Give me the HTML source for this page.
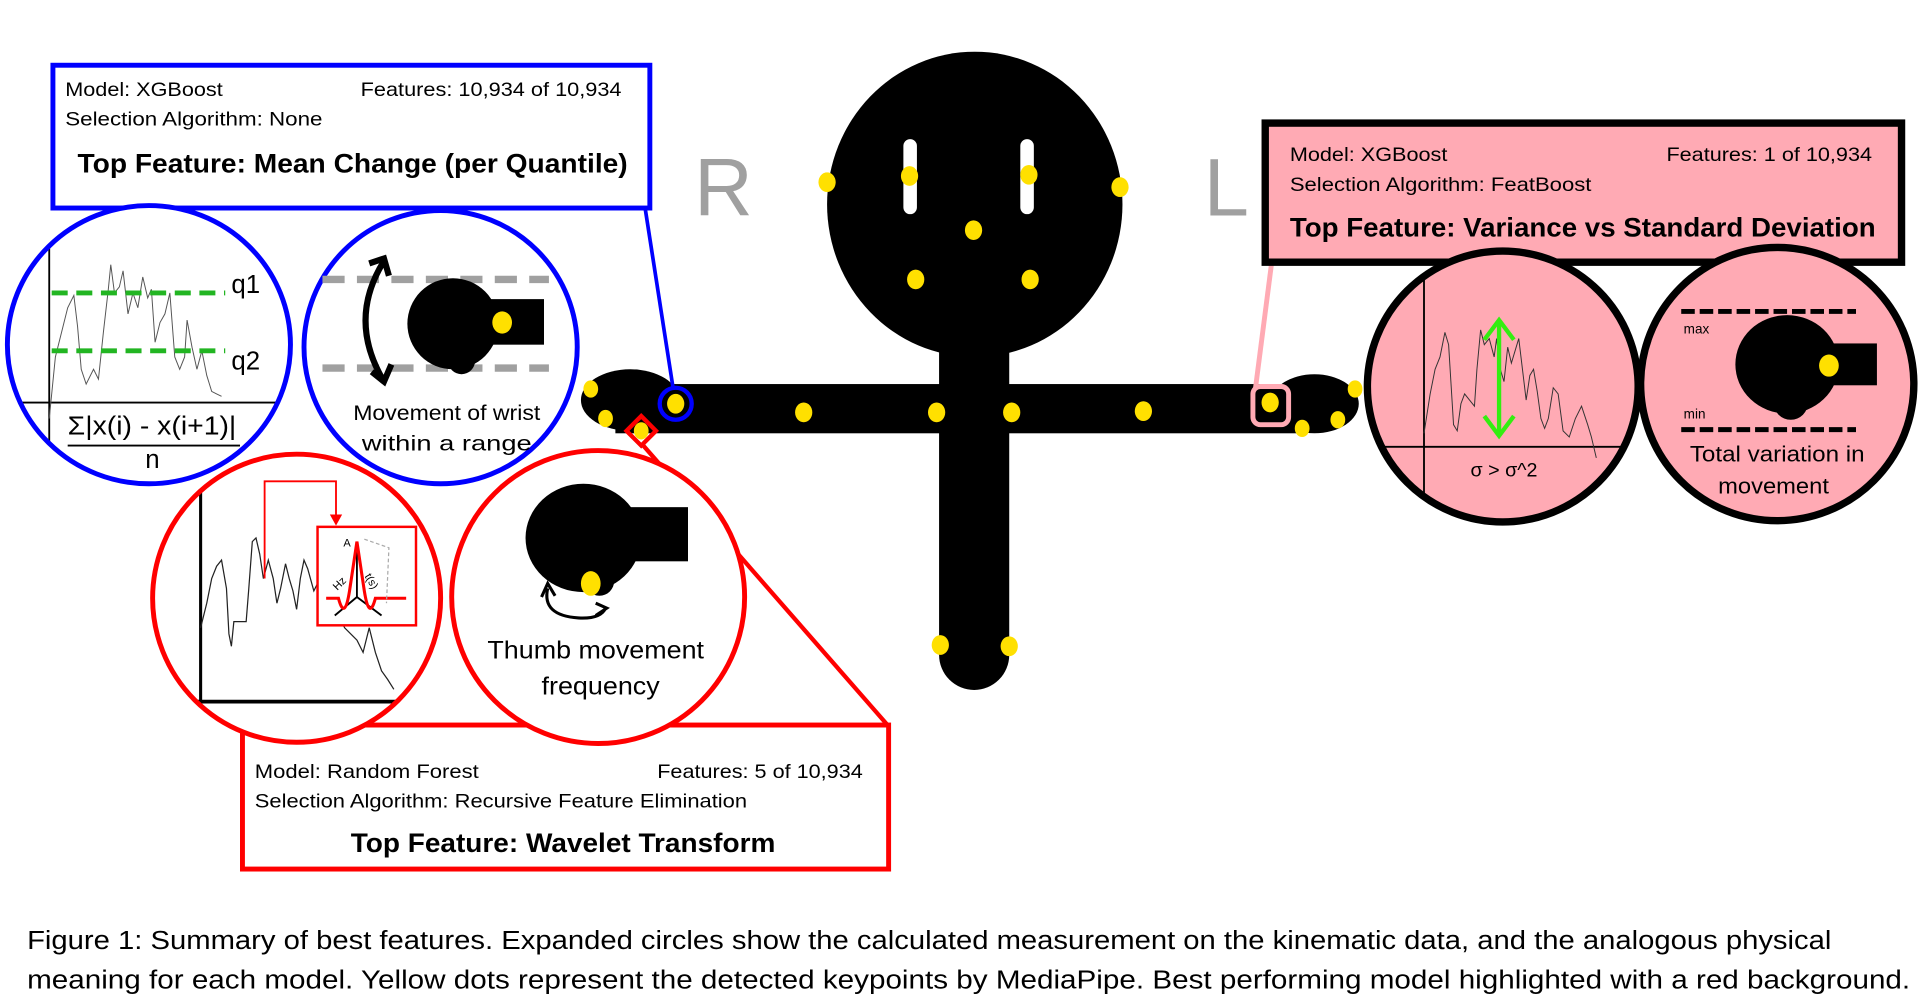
<!DOCTYPE html>
<html><head><meta charset="utf-8"><style>
html,body{margin:0;padding:0;background:#fff;}
svg{display:block;}
text{font-family:"Liberation Sans",sans-serif;}
</style></head><body>
<svg width="1920" height="1002" viewBox="0 0 1560 814" preserveAspectRatio="none" xmlns="http://www.w3.org/2000/svg">
<defs>
<clipPath id="cb1"><ellipse cx="121" cy="280" rx="115" ry="113"/></clipPath>
<clipPath id="cr1"><circle cx="241" cy="486" r="117"/></clipPath>
<clipPath id="cp1"><circle cx="1221" cy="314" r="110"/></clipPath>
</defs>
<rect width="1560" height="814" fill="#fff"/>

<!-- Body -->
<ellipse cx="792" cy="166" rx="120" ry="124" fill="#000"/>
<rect x="763" y="200" width="57" height="332" fill="#000"/>
<circle cx="791.5" cy="532" r="28.5" fill="#000"/>
<rect x="500" y="312" width="560" height="40" fill="#000"/>
<ellipse cx="512" cy="325" rx="40" ry="25" fill="#000"/>
<ellipse cx="1068" cy="328" rx="36" ry="24" fill="#000"/>
<rect x="734" y="113" width="11" height="61" rx="5.5" fill="#fff"/>
<rect x="829" y="113" width="11" height="61" rx="5.5" fill="#fff"/>
<g fill="#ffe000">
<ellipse cx="672" cy="148" rx="7" ry="8"/><ellipse cx="739" cy="143" rx="7" ry="8"/>
<ellipse cx="836" cy="142" rx="7" ry="8"/><ellipse cx="910" cy="152" rx="7" ry="8"/>
<ellipse cx="791" cy="187" rx="7" ry="8"/><ellipse cx="744" cy="227" rx="7" ry="8"/>
<ellipse cx="837" cy="227" rx="7" ry="8"/>
<ellipse cx="480" cy="316" rx="6" ry="7"/><ellipse cx="492" cy="340" rx="6" ry="7"/>
<ellipse cx="521" cy="350" rx="6" ry="7"/><ellipse cx="549" cy="328" rx="7" ry="8"/>
<ellipse cx="653" cy="335" rx="7" ry="8"/><ellipse cx="761" cy="335" rx="7" ry="8"/>
<ellipse cx="822" cy="335" rx="7" ry="8"/><ellipse cx="929" cy="334" rx="7" ry="8"/>
<ellipse cx="1032" cy="327" rx="7" ry="8"/><ellipse cx="1101" cy="316" rx="6" ry="7"/>
<ellipse cx="1087" cy="341" rx="6" ry="7"/><ellipse cx="1058" cy="348" rx="6" ry="7"/>
<ellipse cx="764" cy="524" rx="7" ry="8"/><ellipse cx="820" cy="525" rx="7" ry="8"/>
</g>
<text x="564" y="175" font-size="66" fill="#a0a0a0">R</text>
<text x="978" y="175" font-size="66" fill="#a0a0a0">L</text>

<!-- connectors -->
<line x1="524" y1="168" x2="547" y2="316" stroke="#0000ff" stroke-width="3"/>
<circle cx="549" cy="328" r="13" fill="none" stroke="#0000ff" stroke-width="3.5"/>
<line x1="1033" y1="215" x2="1020" y2="316" stroke="#ffaab4" stroke-width="4"/>
<rect x="1018" y="314" width="29" height="31" rx="6" fill="none" stroke="#ffaab4" stroke-width="4"/>
<line x1="521" y1="360" x2="722" y2="590" stroke="#ff0000" stroke-width="3.5"/>
<polygon points="521,338 533,350 521,362 509,350" fill="none" stroke="#ff0000" stroke-width="3.5"/>

<!-- Blue box -->
<rect x="43" y="53" width="485" height="116" fill="#fff" stroke="#0000ff" stroke-width="4"/>
<text x="53" y="78" font-size="16" textLength="128" lengthAdjust="spacingAndGlyphs">Model: XGBoost</text>
<text x="293" y="78" font-size="16" textLength="212" lengthAdjust="spacingAndGlyphs">Features: 10,934 of 10,934</text>
<text x="53" y="102" font-size="16" textLength="209" lengthAdjust="spacingAndGlyphs">Selection Algorithm: None</text>
<text x="63" y="140" font-size="22" font-weight="bold" textLength="447" lengthAdjust="spacingAndGlyphs">Top Feature: Mean Change (per Quantile)</text>

<!-- Blue circle 1 -->
<ellipse cx="121" cy="280" rx="115" ry="113" fill="#fff"/>
<g clip-path="url(#cb1)">
<line x1="40" y1="190" x2="40" y2="400" stroke="#000" stroke-width="1.5"/>
<line x1="10" y1="327" x2="230" y2="327" stroke="#000" stroke-width="1.5"/>
<polyline fill="none" stroke="#555" stroke-width="0.8" points="40,340 45,290 50,270 55,250 60,240 63,265 66,300 70,312 76,300 80,308 84,270 88,235 90,215 93,238 97,233 100,220 104,255 108,238 112,250 116,225 120,242 123,235 126,278 130,262 134,255 138,238 142,290 146,300 150,290 152,260 156,282 160,300 164,285 168,305 172,318 176,320 180,322"/>
<line x1="42" y1="238" x2="183" y2="238" stroke="#22b522" stroke-width="4" stroke-dasharray="13,7"/>
<line x1="42" y1="285" x2="183" y2="285" stroke="#22b522" stroke-width="4" stroke-dasharray="13,7"/>
<text x="188" y="238" font-size="21">q1</text>
<text x="188" y="300" font-size="21">q2</text>
<text x="55" y="353" font-size="21" textLength="137" lengthAdjust="spacingAndGlyphs">Σ|x(i) - x(i+1)|</text>
<line x1="55" y1="362" x2="195" y2="362" stroke="#000" stroke-width="1.5"/>
<text x="118" y="380" font-size="21">n</text>
</g>
<ellipse cx="121" cy="280" rx="115" ry="113" fill="none" stroke="#0000ff" stroke-width="4"/>

<!-- Blue circle 2 -->
<circle cx="358" cy="282" r="111" fill="#fff" stroke="#0000ff" stroke-width="4"/>
<line x1="262" y1="227" x2="446" y2="227" stroke="#a0a0a0" stroke-width="6" stroke-dasharray="18,10"/>
<line x1="262" y1="299" x2="446" y2="299" stroke="#a0a0a0" stroke-width="6" stroke-dasharray="18,10"/>
<path d="M312,212 Q282,260 312,310" fill="none" stroke="#000" stroke-width="5"/>
<polyline points="300,214 312,210 316,224" fill="none" stroke="#000" stroke-width="5"/>
<polyline points="302,302 312,310 318,296" fill="none" stroke="#000" stroke-width="5"/>
<rect x="380" y="243" width="62" height="37" fill="#000"/>
<circle cx="368" cy="263" r="37" fill="#000"/>
<circle cx="375" cy="293" r="11" fill="#000"/>
<ellipse cx="408" cy="262" rx="8" ry="9" fill="#ffe000"/>
<text x="363" y="341" font-size="17" text-anchor="middle" textLength="152" lengthAdjust="spacingAndGlyphs">Movement of wrist</text>
<text x="363" y="366" font-size="17" text-anchor="middle" textLength="138" lengthAdjust="spacingAndGlyphs">within a range</text>

<!-- Red box -->
<rect x="197" y="589" width="525" height="117" fill="#fff" stroke="#ff0000" stroke-width="4"/>
<text x="207" y="632" font-size="16" textLength="182" lengthAdjust="spacingAndGlyphs">Model: Random Forest</text>
<text x="534" y="632" font-size="16" textLength="167" lengthAdjust="spacingAndGlyphs">Features: 5 of 10,934</text>
<text x="207" y="656" font-size="16" textLength="400" lengthAdjust="spacingAndGlyphs">Selection Algorithm: Recursive Feature Elimination</text>
<text x="285" y="692" font-size="22" font-weight="bold" textLength="345" lengthAdjust="spacingAndGlyphs">Top Feature: Wavelet Transform</text>

<!-- Red circle 1 -->
<circle cx="241" cy="486" r="117" fill="#fff"/>
<g clip-path="url(#cr1)">
<line x1="163" y1="375" x2="163" y2="610" stroke="#000" stroke-width="2.5"/>
<line x1="130" y1="570" x2="335" y2="570" stroke="#000" stroke-width="3"/>
<polyline fill="none" stroke="#222" stroke-width="1" points="163,510 168,490 172,470 176,460 180,455 184,478 186,515 188,525 190,505 195,505 200,505 202,480 205,440 208,437 211,450 214,470 218,455 222,470 225,490 228,478 232,458 235,470 238,480 241,495 244,470 247,455 250,462 255,480 260,470 270,490 280,510 290,520 295,530 300,510 305,530 310,545 315,552 320,560"/>
<polyline points="215,470 215,391 273,391 273,420" fill="none" stroke="#ff0000" stroke-width="1.5"/>
<polygon points="268,418 278,418 273,427" fill="#ff0000"/>
<rect x="258" y="428" width="80" height="80" fill="#fff" stroke="#ff0000" stroke-width="2"/>
<line x1="290" y1="440" x2="290" y2="485" stroke="#000" stroke-width="1.5"/>
<line x1="290" y1="485" x2="272" y2="500" stroke="#000" stroke-width="1.5"/>
<line x1="290" y1="485" x2="310" y2="500" stroke="#000" stroke-width="1.5"/>
<path d="M265,486 L275,486 Q280,505 284,480 L290,440 L296,480 Q300,505 305,486 L330,486" fill="none" stroke="#ff0000" stroke-width="2.5"/>
<text x="279" y="444" font-size="9">A</text>
<text x="274" y="480" font-size="9" transform="rotate(-45 274 480)">Hz</text>
<text x="296" y="468" font-size="9" transform="rotate(60 296 468)">t(s)</text>
<path d="M296,438 L316,445 L314,490" fill="none" stroke="#aaa" stroke-dasharray="3,2"/>
</g>
<circle cx="241" cy="486" r="117" fill="none" stroke="#ff0000" stroke-width="4"/>

<!-- Red circle 2 -->
<circle cx="486" cy="485" r="119" fill="#fff" stroke="#ff0000" stroke-width="4"/>
<rect x="482" y="412" width="77" height="44" fill="#000"/>
<ellipse cx="474" cy="437" rx="47" ry="44" fill="#000"/>
<circle cx="487" cy="472" r="12" fill="#000"/>
<ellipse cx="480" cy="474" rx="8" ry="10" fill="#ffe000"/>
<path d="M445,478 Q440,500 470,502 Q488,503 492,494" fill="none" stroke="#000" stroke-width="2.5"/>
<polyline points="440,485 445,474 451,484" fill="none" stroke="#000" stroke-width="2.5"/>
<polyline points="484,490 493,494 484,500" fill="none" stroke="#000" stroke-width="2.5"/>
<text x="484" y="535" font-size="20" text-anchor="middle" textLength="176" lengthAdjust="spacingAndGlyphs">Thumb movement</text>
<text x="488" y="564" font-size="20" text-anchor="middle" textLength="96" lengthAdjust="spacingAndGlyphs">frequency</text>

<!-- Pink box -->
<rect x="1028" y="100" width="517" height="113" fill="#ffaab4" stroke="#000" stroke-width="6"/>
<text x="1048" y="131" font-size="16" textLength="128" lengthAdjust="spacingAndGlyphs">Model: XGBoost</text>
<text x="1354" y="131" font-size="16" textLength="167" lengthAdjust="spacingAndGlyphs">Features: 1 of 10,934</text>
<text x="1048" y="155" font-size="16" textLength="245" lengthAdjust="spacingAndGlyphs">Selection Algorithm: FeatBoost</text>
<text x="1048" y="192" font-size="22" font-weight="bold" textLength="476" lengthAdjust="spacingAndGlyphs">Top Feature: Variance vs Standard Deviation</text>

<!-- Pink circle 1 -->
<circle cx="1221" cy="314" r="110" fill="#ffaab4"/>
<g clip-path="url(#cp1)">
<line x1="1157" y1="210" x2="1157" y2="430" stroke="#000" stroke-width="1.5"/>
<line x1="1100" y1="363" x2="1340" y2="363" stroke="#000" stroke-width="1.5"/>
<polyline fill="none" stroke="#333" stroke-width="0.8" points="1157,352 1162,320 1166,300 1170,290 1174,270 1177,280 1181,345 1184,350 1187,328 1190,320 1194,325 1198,330 1200,300 1203,268 1206,280 1210,275 1214,290 1216,275 1219,300 1222,310 1225,282 1228,295 1231,285 1234,275 1237,300 1240,325 1243,305 1246,300 1249,318 1252,340 1255,348 1258,340 1262,315 1266,320 1270,350 1275,355 1280,340 1285,330 1290,345 1293,355 1297,372"/>
<line x1="1218" y1="262" x2="1218" y2="352" stroke="#33ee11" stroke-width="3.5"/>
<polyline points="1206,276 1218,260 1230,276" fill="none" stroke="#33ee11" stroke-width="3.5"/>
<polyline points="1206,338 1218,354 1230,338" fill="none" stroke="#33ee11" stroke-width="3.5"/>
<text x="1222" y="387" font-size="16" text-anchor="middle">σ &gt; σ^2</text>
</g>
<circle cx="1221" cy="314" r="110" fill="none" stroke="#000" stroke-width="6"/>

<!-- Pink circle 2 -->
<circle cx="1444" cy="312" r="111" fill="#ffaab4" stroke="#000" stroke-width="6"/>
<line x1="1366" y1="253" x2="1508" y2="253" stroke="#000" stroke-width="4" stroke-dasharray="11,4"/>
<line x1="1366" y1="349" x2="1508" y2="349" stroke="#000" stroke-width="4" stroke-dasharray="11,4"/>
<text x="1368" y="271" font-size="11">max</text>
<text x="1368" y="340" font-size="11">min</text>
<rect x="1462" y="279" width="63" height="34" fill="#000"/>
<ellipse cx="1452" cy="296" rx="42" ry="40" fill="#000"/>
<circle cx="1455" cy="327" r="14" fill="#000"/>
<ellipse cx="1486" cy="297" rx="8" ry="9" fill="#ffe000"/>
<text x="1444" y="375" font-size="18" text-anchor="middle" textLength="142" lengthAdjust="spacingAndGlyphs">Total variation in</text>
<text x="1441" y="401" font-size="18" text-anchor="middle" textLength="90" lengthAdjust="spacingAndGlyphs">movement</text>

<!-- Caption -->
<text x="22" y="771" font-size="21" textLength="1466" lengthAdjust="spacingAndGlyphs">Figure 1: Summary of best features. Expanded circles show the calculated measurement on the kinematic data, and the analogous physical</text>
<text x="22" y="803" font-size="21" textLength="1530" lengthAdjust="spacingAndGlyphs">meaning for each model. Yellow dots represent the detected keypoints by MediaPipe. Best performing model highlighted with a red background.</text>
</svg>
</body></html>
